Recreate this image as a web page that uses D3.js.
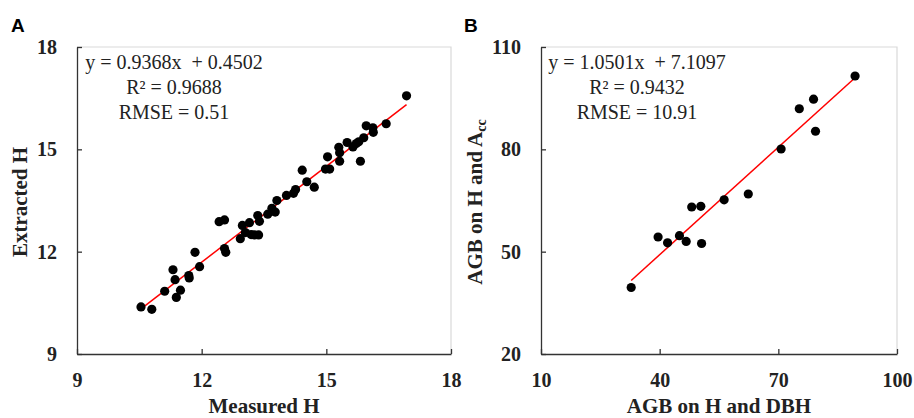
<!DOCTYPE html>
<html>
<head>
<meta charset="utf-8">
<script src="https://cdn.jsdelivr.net/npm/d3@7"></script>
<style>
  body { margin: 0; background: #fff; }
  .tick text { font-family: "Liberation Serif", "Times New Roman", serif; font-weight: bold; font-size: 20px; fill: #222; }
  .axis path, .axis line { stroke: #333; stroke-width: 1.3px; }
</style>
</head>
<body>
<div id="chart"></div>
<script>
// panel A: measured vs extracted tree height
var measuredH = [10.54, 10.80, 11.11, 11.39, 11.49, 11.31, 11.36, 11.69, 11.70, 11.84, 11.95,
    12.42, 12.55, 12.55, 12.58, 12.93, 12.98, 13.05, 13.15, 13.19, 13.27, 13.37, 13.35, 13.39,
    13.59, 13.69, 13.77, 13.81, 14.04, 14.21, 14.26, 14.42, 14.53, 14.71, 14.98, 15.08, 15.03,
    15.30, 15.32, 15.32, 15.50, 15.64, 15.78, 15.82, 15.90, 15.96, 16.12, 16.13, 16.44, 16.93, 15.72];
var extractedH = [10.38, 10.31, 10.84, 10.66, 10.87, 11.47, 11.18, 11.30, 11.23, 11.98, 11.56,
    12.88, 12.93, 12.09, 11.98, 12.38, 12.77, 12.56, 12.85, 12.50, 12.49, 12.49, 13.06, 12.89,
    13.10, 13.27, 13.16, 13.50, 13.65, 13.71, 13.82, 14.39, 14.05, 13.89, 14.42, 14.42, 14.78,
    15.06, 14.90, 14.65, 15.20, 15.07, 15.22, 14.65, 15.34, 15.69, 15.63, 15.50, 15.75, 16.57, 15.17];
var ticksA = [9, 12, 15, 18];
var fitA = { slope: 0.9368, intercept: 0.4502 };
var textA = ["y = 0.9368x  + 0.4502", "R\u00b2 = 0.9688", "RMSE = 0.51"];

// panel B: AGB from H and DBH vs AGB from H and Acc
var agbDBH = [32.8, 39.6, 42.0, 45.0, 46.7, 50.6, 48.1, 50.4, 56.3, 62.4, 70.7, 75.3, 78.9, 79.4, 89.4];
var agbAcc = [39.5, 54.3, 52.6, 54.7, 53.0, 52.4, 63.1, 63.3, 65.2, 66.9, 80.1, 91.9, 94.7, 85.3, 101.5];
var ticksBx = [10, 40, 70, 100];
var ticksBy = [20, 50, 80, 110];
var fitB = { slope: 1.0501, intercept: 7.1097 };
var textB = ["y = 1.0501x  + 7.1097", "R\u00b2 = 0.9432", "RMSE = 10.91"];

var width = 914, height = 418;

var svg = d3.select("#chart")
    .append("svg")
    .attr("width", width)
    .attr("height", height);

function drawPanel(opt) {
    var x = d3.scaleLinear().domain(opt.xDomain).range([opt.left, opt.right]);
    var y = d3.scaleLinear().domain(opt.yDomain).range([354, 47]);

    // light frame on top and right
    svg.append("path")
        .attr("d", "M" + opt.left + ",47H" + opt.right + "V354")
        .attr("fill", "none")
        .attr("stroke", "#d9d9d9")
        .attr("stroke-width", 1.2);

    svg.append("g")
        .attr("class", "axis")
        .attr("transform", "translate(0,354)")
        .call(d3.axisBottom(x).tickValues(opt.xTicks).tickSizeInner(-5).tickSizeOuter(0).tickPadding(19));

    svg.append("g")
        .attr("class", "axis")
        .attr("transform", "translate(" + opt.left + ",0)")
        .call(d3.axisLeft(y).tickValues(opt.yTicks).tickSizeInner(-5).tickSizeOuter(0).tickPadding(20));

    // regression line over the data range
    var xs = d3.extent(opt.xs);
    svg.append("line")
        .attr("x1", x(xs[0])).attr("y1", y(opt.fit.slope * xs[0] + opt.fit.intercept))
        .attr("x2", x(xs[1])).attr("y2", y(opt.fit.slope * xs[1] + opt.fit.intercept))
        .attr("stroke", "#ff0000")
        .attr("stroke-width", 1.5);

    svg.append("g").selectAll("circle")
        .data(opt.xs.map((d, i) => [d, opt.ys[i]]))
        .enter()
        .append("circle")
        .attr("cx", d => x(d[0]))
        .attr("cy", d => y(d[1]))
        .attr("r", 4.6)
        .attr("fill", "#000");

    // equation text
    svg.append("g").selectAll("text")
        .data(opt.text)
        .enter()
        .append("text")
        .attr("x", opt.textX)
        .attr("y", (d, i) => 69 + i * 25)
        .attr("text-anchor", "middle")
        .style("font-family", "'Liberation Serif', 'Times New Roman', serif")
        .style("font-size", "20px")
        .style("fill", "#222")
        .style("white-space", "pre")
        .text(d => d);

    // axis titles
    svg.append("text")
        .attr("x", (opt.left + opt.right) / 2)
        .attr("y", 413)
        .attr("text-anchor", "middle")
        .style("font-family", "'Liberation Serif', 'Times New Roman', serif")
        .style("font-size", "21px")
        .style("font-weight", "bold")
        .style("fill", "#222")
        .text(opt.xTitle);

    var yt = svg.append("text")
        .attr("transform", "translate(" + opt.yTitleX + ",202) rotate(-90)")
        .attr("text-anchor", "middle")
        .style("font-family", "'Liberation Serif', 'Times New Roman', serif")
        .style("font-size", "21px")
        .style("font-weight", "bold")
        .style("fill", "#222");
    yt.append("tspan").text(opt.yTitle);
    if (opt.ySub) {
        yt.append("tspan")
            .attr("dy", 4)
            .style("font-size", "14px")
            .text(opt.ySub);
    }

    // panel letter
    svg.append("text")
        .attr("x", opt.letterX)
        .attr("y", 32)
        .style("font-family", "'Liberation Sans', Arial, sans-serif")
        .style("font-size", "19px")
        .style("font-weight", "bold")
        .text(opt.letter);
}

drawPanel({
    left: 77, right: 451, xDomain: [9, 18], yDomain: [9, 18],
    xTicks: ticksA, yTicks: ticksA, xs: measuredH, ys: extractedH, fit: fitA,
    text: textA, textX: 174, xTitle: "Measured H", yTitle: "Extracted H", yTitleX: 27,
    letter: "A", letterX: 11
});

drawPanel({
    left: 541, right: 897, xDomain: [10, 100], yDomain: [20, 110],
    xTicks: ticksBx, yTicks: ticksBy, xs: agbDBH, ys: agbAcc, fit: fitB,
    text: textB, textX: 637, xTitle: "AGB on H and DBH", yTitle: "AGB on H and A", ySub: "cc",
    yTitleX: 482, letter: "B", letterX: 464
});
</script>
</body>
</html>
